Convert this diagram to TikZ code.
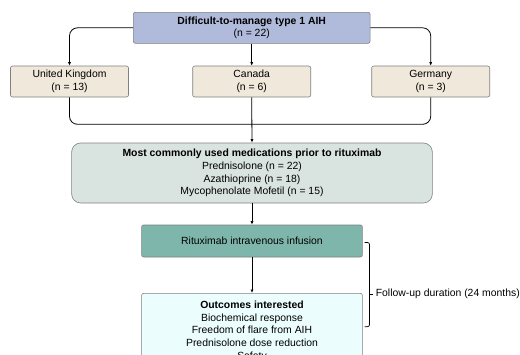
\documentclass[tikz,border=0pt]{standalone}
\usepackage{fontspec}
\setmainfont{Liberation Sans}
\usetikzlibrary{arrows.meta}
\definecolor{aihblue}{RGB}{176,186,218}
\definecolor{countrybeige}{RGB}{240,233,219}
\definecolor{medgray}{RGB}{217,227,223}
\definecolor{rtxteal}{RGB}{127,182,172}
\definecolor{outcyan}{RGB}{236,253,253}
\definecolor{boxline}{RGB}{128,128,128}
\begin{document}
\begin{tikzpicture}[x=1pt,y=-1pt,
  font=\fontsize{10.4}{12.7}\selectfont,
  box/.style={draw=boxline,line width=0.6pt,rounded corners=2pt,align=center,
    inner sep=0pt},
  link/.style={line width=0.8pt,-{Latex[length=3.5pt,width=3pt]}},
  elbow/.style={line width=0.8pt,rounded corners=8pt}]
\useasboundingbox (0,0) rectangle (520,354);
\clip (0,0) rectangle (520,354);
% boxes
\node[box,fill=aihblue,minimum width=236.7pt,minimum height=31pt] (aih) at (251.7,27.8)
  {\textbf{Difficult-to-manage type 1 AIH}\\(n = 22)};
\node[box,fill=countrybeige,minimum width=118pt,minimum height=31pt] (uk) at (69.5,81.5)
  {United Kingdom\\(n = 13)};
\node[box,fill=countrybeige,minimum width=118pt,minimum height=31pt] (ca) at (251.7,81.5)
  {Canada\\(n = 6)};
\node[box,fill=countrybeige,minimum width=118pt,minimum height=31pt] (de) at (430.7,81.5)
  {Germany\\(n = 3)};
\node[box,fill=medgray,rounded corners=9pt,minimum width=360.7pt,minimum height=60pt] (med) at (252,173)
  {\textbf{Most commonly used medications prior to rituximab}\\Prednisolone (n = 22)\\
   Azathioprine (n = 18)\\Mycophenolate Mofetil (n = 15)};
\node[box,fill=rtxteal,minimum width=220.7pt,minimum height=32pt] (rtx) at (252,241)
  {Rituximab intravenous infusion};
\node[box,fill=outcyan,minimum width=220.7pt,minimum height=76pt,anchor=north] (out) at (252,293)
  {\textbf{Outcomes interested}\\Biochemical response\\Freedom of flare from AIH\\
   Prednisolone dose reduction\\Safety};
% connectors
\draw[link,elbow] (aih.west) -| (uk.north);
\draw[link,elbow] (aih.east) -| (de.north);
\draw[link] (aih.south) -- (ca.north);
\draw[elbow] (uk.south) -- ++(0,27) -| (de.south);
\draw[link] (ca.south) -- (med.north);
\draw[link] (med.south) -- (rtx.north);
\draw[link] (rtx.south) -- (out.north);
% follow-up bracket
\coordinate (brtop) at (364.5,242.5);
\coordinate (brbot) at (364.5,326.7);
\draw[line width=0.7pt,rounded corners=2pt] (brtop) -- ++(5,0) -- ++(0,84.2) -- (brbot);
\draw[line width=0.7pt] (369.5,294) -- (373,294)
  node[anchor=west,inner sep=0pt,xshift=2.5pt] (fu) {Follow-up duration (24 months)};
\end{tikzpicture}
\end{document}
